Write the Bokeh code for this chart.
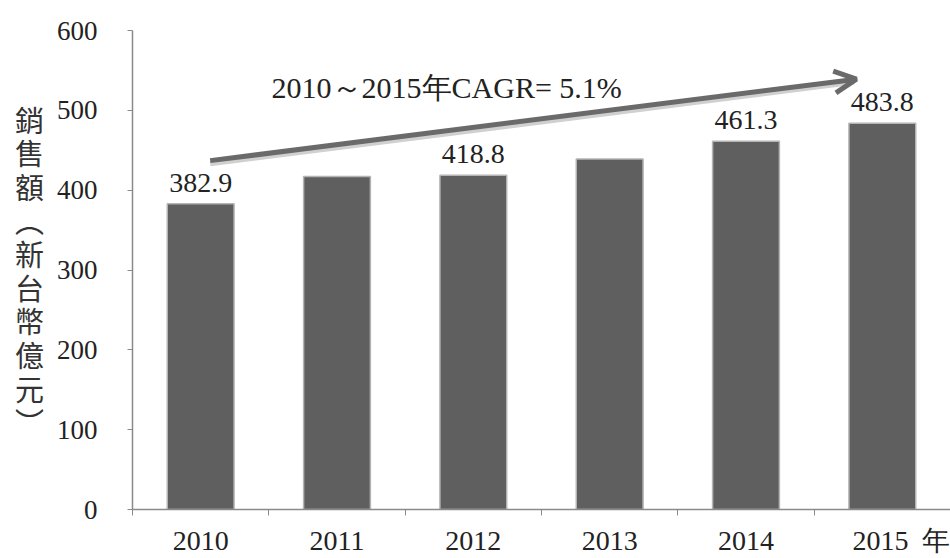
from bokeh.plotting import figure
from bokeh.models import Range1d, FixedTicker, Label, LabelSet, Arrow, OpenHead, ColumnDataSource
from bokeh.core.properties import value
from bokeh.embed import file_html
from bokeh.resources import INLINE

years = ["2010", "2011", "2012", "2013", "2014", "2015"]
sales = [382.9, 417.0, 418.8, 439.0, 461.3, 483.8]
labeled_years = ["2010", "2012", "2014", "2015"]
y_ticks = [0, 100, 200, 300, 400, 500, 600]
y_label_chars = ["銷", "售", "額", "︵", "新", "台", "幣", "億", "元", "︶"]
cagr_text = "2010～2015年CAGR= 5.1%"
unit_text = "年"

SERIF = "Liberation Serif"

xs = [i + 0.5 for i in range(len(years))]

p = figure(width=950, height=558, output_backend="svg", toolbar_location=None,
           x_range=Range1d(0, len(years)), y_range=Range1d(0, 600),
           min_border_left=132, min_border_right=0, min_border_top=30, min_border_bottom=20)
p.outline_line_color = None
p.background_fill_color = "white"
p.xgrid.visible = False
p.ygrid.visible = False

src = ColumnDataSource(dict(x=xs, top=sales, year=years))
p.vbar(x="x", top="top", width=0.49, source=src, fill_color="#5f5f5f",
       line_color="#b4b4b4", line_width=1.5)

lab_idx = [i for i, y in enumerate(years) if y in labeled_years]
lab_src = ColumnDataSource(dict(x=[xs[i] for i in lab_idx], y=[sales[i] for i in lab_idx],
                                txt=[f"{sales[i]:.1f}" for i in lab_idx]))
p.add_layout(LabelSet(x="x", y="y", text="txt", source=lab_src, y_offset=12,
                      text_font=value(SERIF), text_font_size=value("28px"), text_align="center",
                      text_baseline="alphabetic", text_color="#222222"))

# x axis: labels at category centres, small ticks at category boundaries
# the last label carries the unit, shifted so the year stays centred on its bar
x_label_pos = xs[:-1] + [xs[-1] + 0.14]
x_label_txt = years[:-1] + [years[-1] + "\u2002" + unit_text]
p.xaxis.ticker = FixedTicker(ticks=x_label_pos, minor_ticks=list(range(len(years) + 1)))
p.xaxis.major_label_overrides = {x: y for x, y in zip(x_label_pos, x_label_txt)}
p.xaxis.major_tick_out = 0
p.xaxis.major_tick_in = 0
p.xaxis.minor_tick_out = 6
p.xaxis.minor_tick_in = 0
p.xaxis.major_label_standoff = 9
p.xaxis.major_label_text_font_size = "28px"
p.yaxis.ticker = FixedTicker(ticks=y_ticks)
p.yaxis.major_tick_out = 5
p.yaxis.major_tick_in = 0
p.yaxis.major_label_standoff = 30
p.yaxis.major_label_text_font_size = "27px"
for ax in (p.xaxis, p.yaxis):
    ax.axis_line_color = "#8a8a8a"
    ax.axis_line_width = 1.5
    ax.major_tick_line_color = "#8a8a8a"
    ax.major_label_text_font = SERIF
    ax.major_label_text_color = "#222222"
p.xaxis.minor_tick_line_color = "#8a8a8a"
p.yaxis.minor_tick_line_color = None

# vertical y-axis title, one character per line
p.yaxis.axis_label = "\n".join(y_label_chars)
p.yaxis.axis_label_orientation = "horizontal"
p.yaxis.axis_label_text_font = "Noto Sans CJK TC"
p.yaxis.axis_label_text_font_style = "normal"
p.yaxis.axis_label_text_font_size = "29px"
p.yaxis.axis_label_text_line_height = 0.8
p.yaxis.axis_label_text_color = "#333333"
p.yaxis.axis_label_standoff = 10

# CAGR arrow (with a soft shadow)
p.add_layout(Arrow(end=None, x_start=0.57, y_start=433, x_end=5.29, y_end=535,
                   line_color="#d0d0d0", line_width=5))
p.add_layout(Arrow(end=OpenHead(size=22, line_color="#6a6a6a", line_width=5),
                   x_start=0.57, y_start=437, x_end=5.31, y_end=539,
                   line_color="#6a6a6a", line_width=5))

p.add_layout(Label(x=1.02, y=529, text=cagr_text, text_font=SERIF,
                   text_font_size="30px", text_baseline="alphabetic", text_color="#222222"))

open("out.html", "w").write(file_html(p, INLINE))
